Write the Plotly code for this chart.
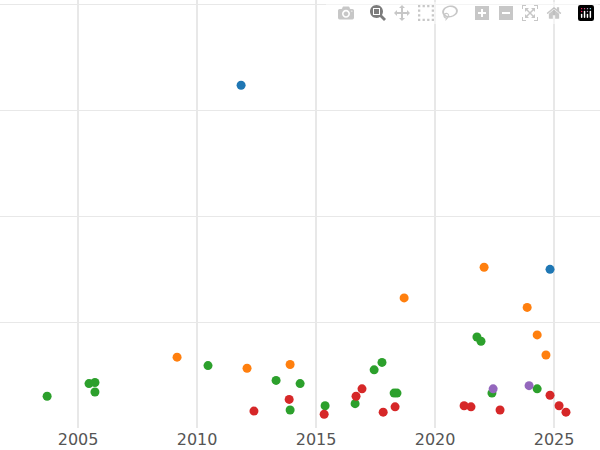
import plotly.graph_objects as go

# values, one list pair per colour group
blue_x = [2011.85, 2024.83]
blue_y = [3.24, 1.50]
orange_x = [2009.16, 2012.10, 2013.91, 2018.70, 2022.06, 2023.87, 2024.29, 2024.66]
orange_y = [0.67, 0.565, 0.60, 1.23, 1.52, 1.14, 0.88, 0.69]
green_x = [2003.70, 2005.46, 2005.71, 2005.71, 2010.46, 2013.32, 2013.91, 2014.33, 2015.38,
           2016.64, 2017.44, 2017.77, 2018.28, 2018.40, 2021.76, 2021.93, 2022.39, 2024.29]
green_y = [0.30, 0.42, 0.43, 0.34, 0.59, 0.45, 0.17, 0.42, 0.21,
           0.23, 0.55, 0.62, 0.33, 0.33, 0.86, 0.82, 0.33, 0.37]
red_x = [2012.39, 2013.87, 2015.34, 2016.68, 2016.93, 2017.82, 2018.32, 2021.22, 2021.51,
         2022.73, 2024.83, 2025.21, 2025.50]
red_y = [0.16, 0.27, 0.13, 0.30, 0.37, 0.15, 0.20, 0.21, 0.20, 0.17, 0.31, 0.21, 0.15]
purple_x = [2022.44, 2023.95]
purple_y = [0.37, 0.40]

groups = [
    (blue_x, blue_y, '#1f77b4'),
    (orange_x, orange_y, '#ff7f0e'),
    (green_x, green_y, '#2ca02c'),
    (red_x, red_y, '#d62728'),
    (purple_x, purple_y, '#9467bd'),
]

fig = go.Figure()
for xs, ys, col in groups:
    fig.add_trace(go.Scatter(x=xs, y=ys, mode='markers',
                             marker=dict(color=col, size=9)))

fig.update_layout(
    width=600, height=450,
    margin=dict(l=0, r=0, t=0, b=22),
    plot_bgcolor='white', paper_bgcolor='white',
    showlegend=False,
    font=dict(family='DejaVu Sans', size=16, color='#555'),
)
fig.update_xaxes(range=[2001.72, 2026.93], tickvals=[2005, 2010, 2015, 2020, 2025],
                 showgrid=True, gridcolor='#e8e8e8', gridwidth=2, zeroline=False, ticks='')
fig.update_yaxes(range=[0, 4.046], tickvals=[1, 2, 3, 4], showticklabels=False,
                 showgrid=True, gridcolor='#e8e8e8', gridwidth=1, zeroline=False)

# drop the browser's default page margin so the chart sits at the corner
fig.write_html("out.html", post_script="document.body.style.margin='0';")
